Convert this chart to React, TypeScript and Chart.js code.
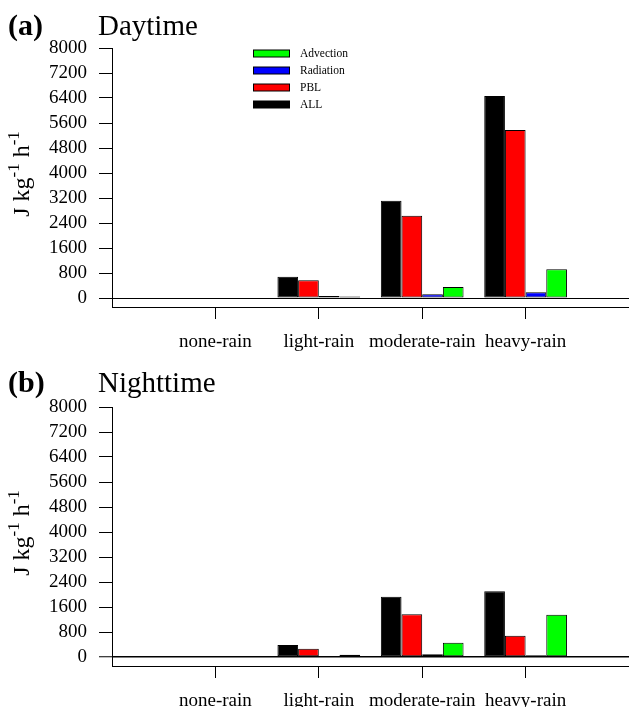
import React, { useEffect, useRef } from 'react';
import { Chart, registerables } from 'chart.js';

Chart.register(...registerables);

const CATEGORIES = ['none-rain', 'light-rain', 'moderate-rain', 'heavy-rain'];
const SERIES_NAMES = ['ALL', 'PBL', 'Radiation', 'Advection'];
const SERIES_COLORS = ['#000000', '#ff0000', '#0000ff', '#00ff00'];
const Y_TICKS = [0, 800, 1600, 2400, 3200, 4000, 4800, 5600, 6400, 7200, 8000];

const DAY_ALL = [0, 682, 3114, 6464];
const DAY_PBL = [-30, 566, 2634, 5376];
const DAY_RAD = [20, 64, 118, 182];
const DAY_ADV = [0, 50, 352, 918];

const NIGHT_ALL = [0, 384, 1930, 2102];
const NIGHT_PBL = [0, 267, 1366, 683];
const NIGHT_RAD = [0, 20, 85, 53];
const NIGHT_ADV = [0, 75, 459, 1355];

const SERIF = '"Liberation Serif", "Times New Roman", serif';
const W = 629;

type PanelProps = {
  top: number;
  height: number;
  values: number[][];
  tag: string;
  title: string;
  titleBaseline: number;
  showLegend: boolean;
  zeroWidth: number;
};

function makeDecor(p: PanelProps) {
  return {
    id: 'decor',
    afterDraw(chart: any) {
      const ctx = chart.ctx as CanvasRenderingContext2D;
      ctx.save();
      ctx.fillStyle = '#000';
      ctx.textBaseline = 'alphabetic';
      ctx.textAlign = 'left';
      ctx.font = `bold 30px ${SERIF}`;
      ctx.fillText(p.tag, 8, p.titleBaseline);
      ctx.font = `29px ${SERIF}`;
      ctx.fillText(p.title, 98, p.titleBaseline);

      // y axis title with superscripts
      const parts = [
        { t: 'J kg', sup: false },
        { t: '-1', sup: true },
        { t: ' h', sup: false },
        { t: '-1', sup: true },
      ];
      const mainFont = `24px ${SERIF}`;
      const supFont = `17px ${SERIF}`;
      let total = 0;
      const widths = parts.map((pt) => {
        ctx.font = pt.sup ? supFont : mainFont;
        const w = ctx.measureText(pt.t).width;
        total += w;
        return w;
      });
      ctx.translate(29, 174);
      ctx.rotate(-Math.PI / 2);
      let x = -total / 2;
      parts.forEach((pt, i) => {
        ctx.font = pt.sup ? supFont : mainFont;
        ctx.fillText(pt.t, x, pt.sup ? -10 : 0);
        x += widths[i];
      });
      ctx.setTransform(1, 0, 0, 1, 0, 0);

      if (p.showLegend) {
        const order = [3, 2, 1, 0];
        order.forEach((si, row) => {
          const cy = 53.5 + row * 17;
          ctx.fillStyle = SERIES_COLORS[si];
          ctx.fillRect(253, cy - 3.5, 36, 7);
          ctx.strokeStyle = '#000';
          ctx.lineWidth = 1;
          ctx.strokeRect(253.5, cy - 3.5, 36, 7);
          ctx.fillStyle = '#000';
          ctx.font = `11.5px ${SERIF}`;
          ctx.textBaseline = 'middle';
          ctx.fillText(SERIES_NAMES[si], 300, cy + 0.5);
        });
      }
      ctx.restore();
    },
  };
}

function Panel(p: PanelProps) {
  const ref = useRef<HTMLCanvasElement>(null);
  useEffect(() => {
    const labels = ['', ...CATEGORIES, ''];
    const datasets = SERIES_NAMES.map((name, i) => ({
      label: name,
      data: [null, ...p.values[i], null],
      backgroundColor: SERIES_COLORS[i],
      borderColor: '#000000',
      borderWidth: 1,
      borderSkipped: false,
      categoryPercentage: 0.8,
      barPercentage: 1,
    }));
    const tickFont = { family: SERIF, size: 19 };
    const chart = new Chart(ref.current as HTMLCanvasElement, {
      type: 'bar',
      data: { labels, datasets: datasets as any },
      options: {
        animation: false,
        responsive: false,
        maintainAspectRatio: false,
        devicePixelRatio: 1,
        layout: { padding: { top: 48, left: 0, right: 0, bottom: 0 } },
        plugins: {
          legend: { display: false },
          tooltip: { enabled: false },
        },
        scales: {
          x: {
            type: 'category',
            offset: false,
            grid: {
              offset: false,
              drawOnChartArea: false,
              drawTicks: true,
              tickLength: 12,
              tickWidth: 1,
              tickColor: (c: any) =>
                c.index === 0 || c.index === labels.length - 1 ? 'rgba(0,0,0,0)' : '#000',
            },
            border: { display: true, color: '#000', width: 1 },
            ticks: {
              font: tickFont,
              color: '#000',
              padding: 12,
              autoSkip: false,
              maxRotation: 0,
              minRotation: 0,
            },
            afterFit: (s: any) => {
              s.height = p.height - 307;
              s.paddingLeft = 0;
              s.paddingRight = 0;
            },
          },
          y: {
            type: 'linear',
            min: -288,
            max: 8000,
            afterBuildTicks: (s: any) => {
              s.ticks = Y_TICKS.map((v) => ({ value: v }));
            },
            grid: {
              drawOnChartArea: true,
              drawTicks: true,
              tickLength: 13,
              tickWidth: 1,
              tickColor: '#000',
              lineWidth: (c: any) => (c.tick && c.tick.value === 0 ? p.zeroWidth : 1),
              color: (c: any) => (c.tick && c.tick.value === 0 ? '#000' : 'rgba(0,0,0,0)'),
            },
            border: { display: true, color: '#000', width: 1 },
            ticks: {
              font: tickFont,
              color: '#000',
              padding: 12,
              callback: (v: any) => String(v),
            },
            afterFit: (s: any) => {
              s.width = 112;
            },
          },
        },
      } as any,
      plugins: [makeDecor(p)],
    });
    return () => chart.destroy();
  }, []);
  return (
    <canvas
      ref={ref}
      width={W}
      height={p.height}
      style={{ position: 'absolute', left: 0, top: p.top, width: W, height: p.height, display: 'block' }}
    />
  );
}

export default function App() {
  return (
    <div style={{ position: 'absolute', left: 0, top: 0, width: W, height: 707, background: '#fff', overflow: 'hidden' }}>
      <Panel
        top={0}
        height={359}
        values={[DAY_ALL, DAY_PBL, DAY_RAD, DAY_ADV]}
        tag="(a)"
        title="Daytime"
        titleBaseline={35}
        showLegend={true}
        zeroWidth={1}
      />
      <Panel
        top={359}
        height={348}
        values={[NIGHT_ALL, NIGHT_PBL, NIGHT_RAD, NIGHT_ADV]}
        tag="(b)"
        title="Nighttime"
        titleBaseline={33}
        showLegend={false}
        zeroWidth={1.5}
      />
    </div>
  );
}
